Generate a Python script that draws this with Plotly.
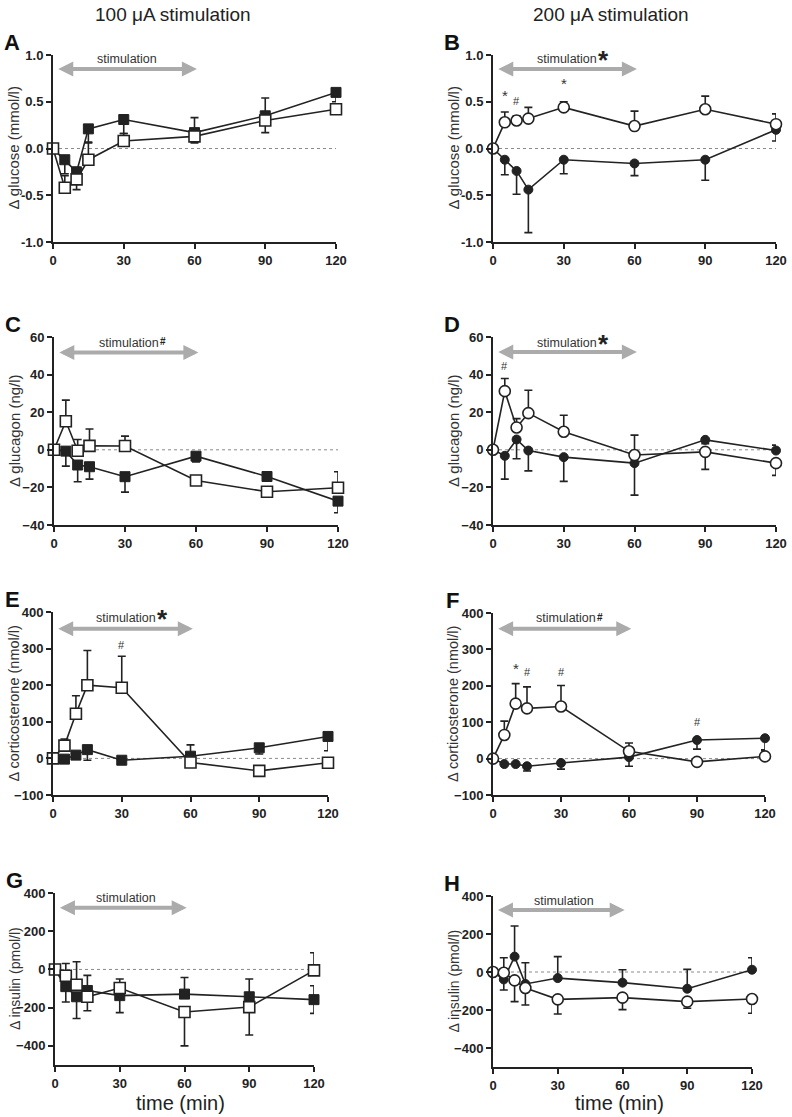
import plotly.graph_objects as go

# ---------------- data ----------------
time_min = [0, 5, 10, 15, 30, 60, 90, 120]

# A: glucose, 100 uA (squares)
A_filled = [0, -0.12, -0.25, 0.21, 0.31, 0.17, 0.35, 0.60]
A_filled_up = [0, 0, 0.05, 0, 0, 0.16, 0.19, 0]
A_filled_dn = [0, 0.15, 0, 0.14, 0.15, 0, 0, 0.10]
A_open = [0, -0.42, -0.33, -0.12, 0.08, 0.13, 0.30, 0.42]
A_open_up = [0, 0.13, 0, 0.18, 0.08, 0, 0, 0]
A_open_dn = [0, 0, 0.11, 0, 0, 0.07, 0.13, 0.04]

# B: glucose, 200 uA (circles)
B_filled = [0, -0.12, -0.24, -0.44, -0.12, -0.16, -0.12, 0.20]
B_filled_up = [0, 0, 0, 0, 0, 0, 0, 0]
B_filled_dn = [0, 0.16, 0.25, 0.46, 0.15, 0.13, 0.22, 0.12]
B_open = [0, 0.28, 0.30, 0.32, 0.44, 0.24, 0.42, 0.26]
B_open_up = [0, 0.11, 0.05, 0.12, 0.06, 0.16, 0.14, 0.11]
B_open_dn = [0, 0, 0, 0, 0, 0, 0, 0]

# C: glucagon, 100 uA
C_filled = [0, -0.7, -8.1, -9.0, -14.3, -3.4, -14.2, -27.3]
C_filled_up = [0, 0, 0, 0, 0, 0, 0, 0]
C_filled_dn = [0, 8.0, 8.9, 6.6, 8.2, 3.0, 2.0, 6.2]
C_open = [0, 15.2, -0.5, 2.1, 2.0, -16.3, -22.3, -20.2]
C_open_up = [0, 11.2, 6.0, 9.0, 5.3, 0, 0, 8.5]
C_open_dn = [0, 0, 0, 0, 0, 0, 0, 0]

# D: glucagon, 200 uA
D_filled = [0, -3.2, 5.5, -0.4, -3.9, -7.1, 5.3, -0.4]
D_filled_up = [0, 0, 0, 0, 0, 0, 0, 2.9]
D_filled_dn = [0, 12.4, 10.3, 10.8, 12.9, 17.0, 2.0, 0]
D_open = [0, 31.2, 11.9, 19.5, 9.6, -2.8, -1.1, -7.1]
D_open_up = [0, 6.7, 4.7, 12.2, 8.8, 10.6, 0, 0]
D_open_dn = [0, 0, 0, 0, 0, 0, 9.3, 6.5]

# E: corticosterone, 100 uA
E_filled = [0, -2, 9, 24, -5, 6, 29, 60]
E_filled_up = [0, 0, 0, 0, 0, 31, 0, 0]
E_filled_dn = [0, 0, 0, 29, 10, 0, 17, 39]
E_open = [0, 35, 122, 200, 193, -11, -34, -12]
E_open_up = [0, 18, 49, 95, 86, 0, 0, 0]
E_open_dn = [0, 0, 0, 0, 0, 0, 0, 0]

# F: corticosterone, 200 uA
F_filled = [0, -15, -15, -21, -12, 4, 51, 56]
F_filled_up = [0, 0, 0, 0, 0, 0, 0, 0]
F_filled_dn = [0, 0, 0, 13, 17, 25, 25, 34]
F_open = [0, 65, 151, 138, 143, 20, -9, 6]
F_open_up = [0, 38, 55, 59, 58, 23, 0, 18]
F_open_dn = [0, 0, 0, 0, 0, 0, 0, 0]

# G: insulin, 100 uA
G_filled = [0, -90, -143, -110, -137, -129, -143, -158]
G_filled_up = [0, 0, 0, 79, 0, 87, 93, 73]
G_filled_dn = [0, 80, 114, 0, 89, 0, 0, 72]
G_open = [0, -33, -80, -143, -97, -223, -197, -5]
G_open_up = [0, 64, 120, 0, 47, 0, 0, 92]
G_open_dn = [0, 0, 0, 73, 0, 177, 146, 0]

# H: insulin, 200 uA
H_filled = [0, -39, 81, -63, -32, -56, -88, 12]
H_filled_up = [0, 0, 161, 112, 113, 68, 102, 63]
H_filled_dn = [0, 56, 0, 0, 0, 0, 0, 0]
H_open = [0, -4, -44, -84, -144, -135, -156, -142]
H_open_up = [0, 79, 0, 0, 0, 0, 0, 0]
H_open_dn = [0, 0, 112, 90, 77, 63, 35, 75]

x_ticks = [0, 30, 60, 90, 120]
column_titles = ["100 \u03bcA stimulation", "200 \u03bcA stimulation"]
y_titles = ["\u0394 glucose (mmol/l)", "\u0394 glucose (mmol/l)",
            "\u0394 glucagon (ng/l)", "\u0394 glucagon (ng/l)",
            "\u0394 corticosterone (nmol/l)", "\u0394 corticosterone (nmol/l)",
            "\u0394 insulin (pmol/l)", "\u0394 insulin (pmol/l)"]
y_title_sizes = [15, 15, 15, 15, 14.5, 14.5, 14, 14]
stim_marks = ["", "*", "#", "*", "*", "#", "", ""]
sig_marks = {
    "B": [(5, 0.57, "*"), (10, 0.51, "#"), (30, 0.69, "*")],
    "D": [(5, 44.4, "#")],
    "E": [(30, 311, "#")],
    "F": [(10, 248, "*"), (15, 238, "#"), (30, 238, "#"), (90, 100, "#")],
}

# ---------------- layout geometry (pixels) ----------------
W, H = 792, 1117
FONT = "Arial, Liberation Sans, sans-serif"
INK = "#222222"

panels = [
    dict(L="A", xs=(53, 336), ys=(55, 242), yr=(-1, 1), yt=[-1, -0.5, 0, 0.5, 1],
         ytt=["-1.0", "-0.5", "0.0", "0.5", "1.0"],
         f=(A_filled, A_filled_up, A_filled_dn), o=(A_open, A_open_up, A_open_dn),
         sym="square", ay=0.85, ty=0.955),
    dict(L="B", xs=(493, 776), ys=(55, 242), yr=(-1, 1), yt=[-1, -0.5, 0, 0.5, 1],
         ytt=["-1.0", "-0.5", "0.0", "0.5", "1.0"],
         f=(B_filled, B_filled_up, B_filled_dn), o=(B_open, B_open_up, B_open_dn),
         sym="circle", ay=0.85, ty=0.955),
    dict(L="C", xs=(54, 338), ys=(337, 525), yr=(-40, 60), yt=[-40, -20, 0, 20, 40, 60],
         ytt=None,
         f=(C_filled, C_filled_up, C_filled_dn), o=(C_open, C_open_up, C_open_dn),
         sym="square", ay=51.7, ty=57.0),
    dict(L="D", xs=(493, 776), ys=(337, 525), yr=(-40, 60), yt=[-40, -20, 0, 20, 40, 60],
         ytt=None,
         f=(D_filled, D_filled_up, D_filled_dn), o=(D_open, D_open_up, D_open_dn),
         sym="circle", ay=52.0, ty=57.0),
    dict(L="E", xs=(53, 328), ys=(612, 795), yr=(-100, 400), yt=[-100, 0, 100, 200, 300, 400],
         ytt=None,
         f=(E_filled, E_filled_up, E_filled_dn), o=(E_open, E_open_up, E_open_dn),
         sym="square", ay=354, ty=384),
    dict(L="F", xs=(493, 765), ys=(613, 795), yr=(-100, 400), yt=[-100, 0, 100, 200, 300, 400],
         ytt=None,
         f=(F_filled, F_filled_up, F_filled_dn), o=(F_open, F_open_up, F_open_dn),
         sym="circle", ay=357, ty=385),
    dict(L="G", xs=(55, 314), ys=(893, 1065), yr=(-500, 400), yt=[-400, -200, 0, 200, 400],
         ytt=None,
         f=(G_filled, G_filled_up, G_filled_dn), o=(G_open, G_open_up, G_open_dn),
         sym="square", ay=323, ty=372),
    dict(L="H", xs=(493, 752), ys=(896, 1067), yr=(-500, 400), yt=[-400, -200, 0, 200, 400],
         ytt=None,
         f=(H_filled, H_filled_up, H_filled_dn), o=(H_open, H_open_up, H_open_dn),
         sym="circle", ay=326, ty=376),
]

fig = go.Figure()
annotations = []
shapes = []
layout_axes = {}

for i, p in enumerate(panels):
    n = i + 1
    xa = "x" if n == 1 else f"x{n}"
    ya = "y" if n == 1 else f"y{n}"
    xkey = "xaxis" if n == 1 else f"xaxis{n}"
    ykey = "yaxis" if n == 1 else f"yaxis{n}"
    x0, x1 = p["xs"]
    yt0, yb0 = p["ys"]
    dom_x = [x0 / W, x1 / W]
    dom_y = [1 - yb0 / H, 1 - yt0 / H]

    layout_axes[xkey] = dict(
        domain=dom_x, anchor=ya, range=[0, 120], tickvals=x_ticks, automargin=False,
        showline=True, linecolor=INK, linewidth=2, ticks="outside", ticklen=5,
        tickwidth=2, tickcolor=INK, showgrid=False, zeroline=False,
        tickfont=dict(family=FONT, size=13, color=INK, weight="bold"), fixedrange=True)
    yax = dict(
        domain=dom_y, anchor=xa, range=list(p["yr"]), tickvals=p["yt"], automargin=False,
        showline=True, linecolor=INK, linewidth=2, ticks="outside", ticklen=5,
        tickwidth=2, tickcolor=INK, showgrid=False, zeroline=False,
        tickfont=dict(family=FONT, size=13, color=INK, weight="bold"), fixedrange=True)
    if p["ytt"]:
        yax["ticktext"] = p["ytt"]
    layout_axes[ykey] = yax

    # dotted zero line
    shapes.append(dict(type="line", xref=xa, yref=ya, x0=0, x1=120, y0=0, y1=0,
                       line=dict(color="#8a8a8a", width=1, dash="dot"), layer="below"))

    sym = p["sym"]
    fv, fu, fd = p["f"]
    ov, ou, od = p["o"]
    fig.add_trace(go.Scatter(
        x=time_min, y=fv, xaxis=xa, yaxis=ya, mode="lines+markers", cliponaxis=False,
        line=dict(color=INK, width=1.6),
        marker=dict(symbol=sym, size=9 if sym == "circle" else 10, color=INK,
                    line=dict(color=INK, width=1)),
        error_y=dict(type="data", symmetric=False, array=fu, arrayminus=fd,
                     color=INK, thickness=1.6, width=4),
        showlegend=False, hoverinfo="skip"))
    fig.add_trace(go.Scatter(
        x=time_min, y=ov, xaxis=xa, yaxis=ya, mode="lines+markers", cliponaxis=False,
        line=dict(color=INK, width=1.6),
        marker=dict(symbol=sym, size=11, color="white",
                    line=dict(color=INK, width=1.6)),
        error_y=dict(type="data", symmetric=False, array=ou, arrayminus=od,
                     color=INK, thickness=1.6, width=4),
        showlegend=False, hoverinfo="skip"))

    # stimulation arrow
    annotations.append(dict(
        xref=xa, yref=ya, axref=xa, ayref=ya, x=61, y=p["ay"], ax=1.6, ay=p["ay"],
        text="", showarrow=True, arrowside="end+start", arrowhead=2, arrowsize=0.75,
        arrowwidth=4, arrowcolor="#ababab", standoff=0, startstandoff=0))
    annotations.append(dict(
        xref=xa, yref=ya, x=18, y=p["ty"], xanchor="left", yanchor="middle",
        text="stimulation", showarrow=False,
        font=dict(family=FONT, size=12.5, color="#333333")))
    mark = stim_marks[i]
    if mark == "*":
        annotations.append(dict(
            xref=xa, yref=ya, x=18, y=p["ty"], xanchor="left", yanchor="middle",
            xshift=61, yshift=-1, text="<b>*</b>", showarrow=False,
            font=dict(family=FONT, size=26, color="#222222")))
    elif mark == "#":
        annotations.append(dict(
            xref=xa, yref=ya, x=18, y=p["ty"], xanchor="left", yanchor="middle",
            xshift=61, yshift=1, text="<b>#</b>", showarrow=False,
            font=dict(family=FONT, size=10, color="#222222")))

    # significance marks on data
    for (tx, ty, s) in sig_marks.get(p["L"], []):
        annotations.append(dict(
            xref=xa, yref=ya, x=tx, y=ty, text=s, showarrow=False,
            font=dict(family=FONT, size=15 if s == "*" else 11, color="#333333")))

    # panel letter
    annotations.append(dict(
        xref="paper", yref="paper", x=(x0 - 41) / W, y=1 - (yt0 - 13) / H,
        xanchor="center", yanchor="middle", text=f"<b>{p['L']}</b>", showarrow=False,
        font=dict(family=FONT, size=22, color="#111111")))

    # y-axis title
    annotations.append(dict(
        xref="paper", yref="paper", x=(x0 - 40) / W, y=1 - ((yt0 + yb0) / 2) / H,
        xanchor="center", yanchor="middle", textangle=-90,
        text=y_titles[i], showarrow=False,
        font=dict(family=FONT, size=y_title_sizes[i], color="#333333")))

# column titles
annotations.append(dict(xref="paper", yref="paper", x=173 / W, y=1 - 15 / H,
                        xanchor="center", yanchor="middle",
                        text=column_titles[0], showarrow=False,
                        font=dict(family=FONT, size=19, color=INK)))
annotations.append(dict(xref="paper", yref="paper", x=611 / W, y=1 - 15 / H,
                        xanchor="center", yanchor="middle",
                        text=column_titles[1], showarrow=False,
                        font=dict(family=FONT, size=19, color=INK)))
# x-axis titles
annotations.append(dict(xref="paper", yref="paper", x=180 / W, y=1 - 1103 / H,
                        xanchor="center", yanchor="middle",
                        text="time (min)", showarrow=False,
                        font=dict(family=FONT, size=20, color=INK)))
annotations.append(dict(xref="paper", yref="paper", x=619 / W, y=1 - 1103 / H,
                        xanchor="center", yanchor="middle",
                        text="time (min)", showarrow=False,
                        font=dict(family=FONT, size=20, color=INK)))

fig.update_layout(
    template="none", autosize=False,
    width=W, height=H, margin=dict(l=0, r=0, t=0, b=0, pad=0, autoexpand=False),
    paper_bgcolor="white", plot_bgcolor="white",
    annotations=annotations, shapes=shapes, showlegend=False,
    **layout_axes)

fig.write_html(
    "out.html", config={"responsive": False, "displayModeBar": False},
    post_script="document.body.style.margin='0';document.body.style.padding='0';"
                "document.body.style.overflow='hidden';")
